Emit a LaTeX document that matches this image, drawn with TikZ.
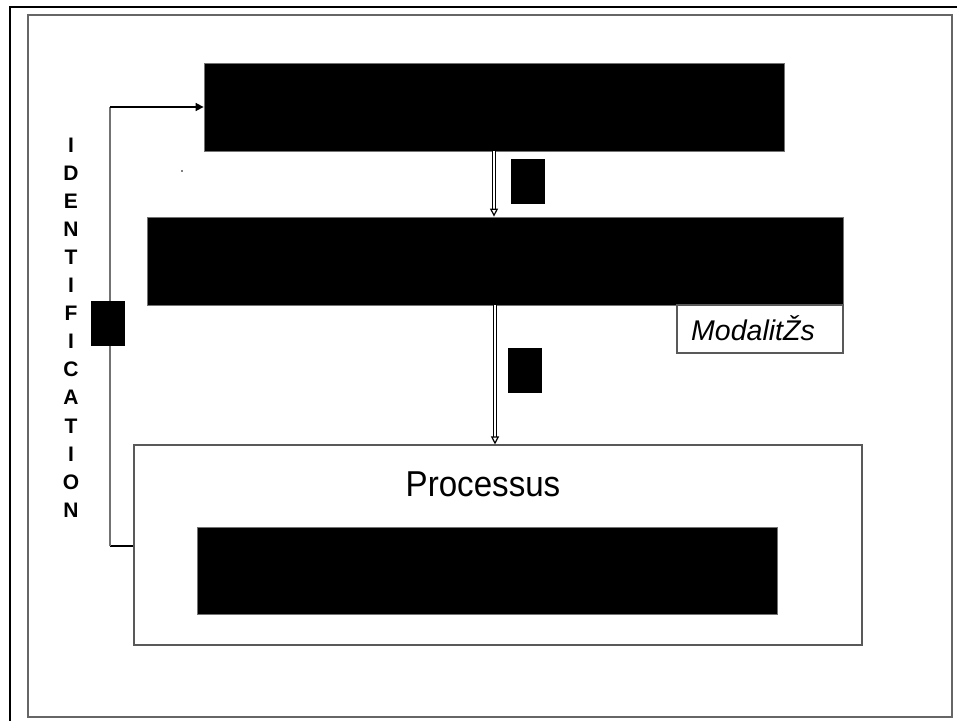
\documentclass[tikz,border=0pt]{standalone}
\usepackage{fontspec}
\setmainfont{Liberation Sans}
\usetikzlibrary{arrows.meta,calc}
\begin{document}
\begin{tikzpicture}[x=1pt,y=-1pt,
  blackbox/.style={draw=black!55,line width=0.8,fill=black,inner sep=0pt},
  whitebox/.style={draw=black!65,line width=1.1,fill=white,inner sep=0pt},
  smallbox/.style={fill=black,inner sep=0pt,minimum width=34,minimum height=45},
  dblarrow/.style={double=white,double distance=1.2pt,line width=1.1pt,draw=black,-{Triangle[open,length=8pt,width=8pt,line width=1.2pt]}},
  conn/.style={line width=1.6pt,draw=black}]
\useasboundingbox (0,0) rectangle (957,720);
\fill[white] (0,0) rectangle (957,720);
% frames
\draw[line width=2.6pt] (10,722) -- (10,7) -- (959,7);
\draw[draw=black!60,line width=1.3pt] (28,15) rectangle (952,717);
% boxes
\node[blackbox,minimum width=580,minimum height=88] (top) at (494,107) {};
\node[blackbox,minimum width=696,minimum height=88] (mid) at (495,261) {};
\node[whitebox,minimum width=166,minimum height=48] (moda) at (760,329) {};
\node[font=\fontsize{28.5}{30}\selectfont\itshape,inner sep=0pt] (modatxt) at (753,328) {ModalitŽs};
\node[whitebox,minimum width=728,minimum height=200] (proc) at (498,545) {};
\node[font=\fontsize{36}{40}\selectfont,xscale=0.92] (ptxt) at (483,484) {Processus};
\node[blackbox,minimum width=580,minimum height=87] (inner) at (487,570.5) {};
% arrows
\draw[dblarrow] (top.south) -- (top.south |- mid.north);
\draw[dblarrow] (mid.south) -- (mid.south |- proc.north);
% identification loop
\coordinate (c1) at (110,546);
\coordinate (c2) at (110,107);
\draw[conn] (proc.west |- c1) -- (c1);
\draw[draw=black!55,line width=2.2pt] (c1) -- (c2);
\draw[conn,-{Triangle[length=8pt,width=8pt]}] (c2) -- (top.west);
% small black boxes
\node[smallbox] (s1) at (527.5,181.5) {};
\node[smallbox] (s2) at (524.5,370.5) {};
\node[smallbox] (s3) at (107.5,323.5) {};
% vertical word
\node[font=\fontsize{21}{28.1}\selectfont\bfseries,align=center,inner sep=0pt] (ident) at (71,327.5)
  {I\\D\\E\\N\\T\\I\\F\\I\\C\\A\\T\\I\\O\\N};
% tiny dot
\fill (182,171) circle (0.9);
\end{tikzpicture}
\end{document}
